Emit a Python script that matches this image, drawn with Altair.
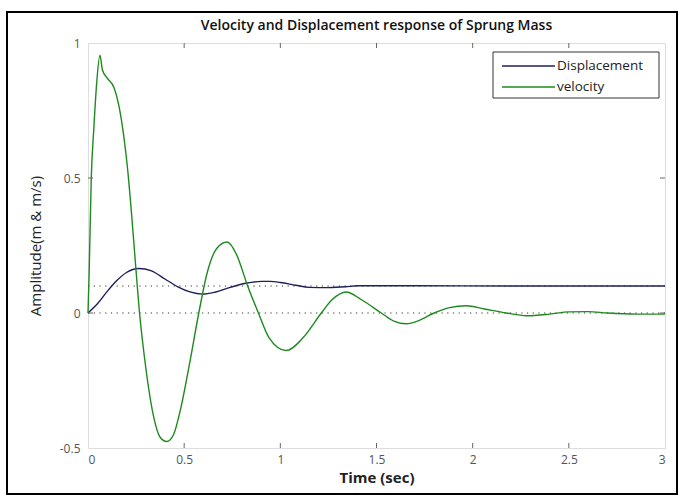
import altair as alt
import pandas as pd

# ---- data ----
series_names = ["Displacement", "velocity"]
series_colors = ["#1f1f5c", "#1e8a1e"]

disp_time = [0.0, 0.05, 0.10, 0.15, 0.20, 0.264, 0.33, 0.40, 0.47, 0.53, 0.597, 0.66,
             0.74, 0.82, 0.90, 0.95, 1.00, 1.08, 1.15, 1.25, 1.34, 1.40, 1.70, 2.20, 2.60, 3.0]
disp_val = [0.0, 0.035, 0.08, 0.12, 0.15, 0.165, 0.156, 0.126, 0.096, 0.078, 0.070, 0.077,
            0.095, 0.110, 0.117, 0.117, 0.113, 0.103, 0.095, 0.094, 0.097, 0.101, 0.101, 0.100, 0.100, 0.100]

vel_time = [0.0, 0.006, 0.017, 0.030, 0.045, 0.062, 0.075, 0.10, 0.135, 0.16, 0.185, 0.205,
            0.225, 0.245, 0.268, 0.30, 0.34, 0.375, 0.41, 0.445, 0.48, 0.53, 0.576, 0.62,
            0.67, 0.724, 0.77, 0.83, 0.886, 0.94, 1.03, 1.12, 1.213, 1.27, 1.343, 1.42,
            1.525, 1.59, 1.655, 1.72, 1.80, 1.88, 1.967, 2.06, 2.175, 2.28, 2.40, 2.50,
            2.60, 2.70, 2.85, 3.0]
vel_val = [0.0, 0.15, 0.50, 0.68, 0.85, 0.955, 0.90, 0.87, 0.835, 0.77, 0.66, 0.54,
           0.38, 0.20, 0.0, -0.20, -0.38, -0.46, -0.476, -0.45, -0.36, -0.18, 0.0, 0.15,
           0.24, 0.263, 0.22, 0.10, 0.0, -0.09, -0.139, -0.09, 0.0, 0.05, 0.078, 0.05,
           0.0, -0.03, -0.04, -0.028, 0.0, 0.02, 0.027, 0.015, 0.0, -0.010, -0.004, 0.004,
           0.005, 0.0, -0.004, -0.004]

x_ticks = [0, 0.5, 1, 1.5, 2, 2.5, 3]
y_ticks = [-0.5, 0, 0.5, 1]
ref_levels = [0.0, 0.1]

title_text = "Velocity and Displacement response of Sprung Mass"
x_title = "Time (sec)"
y_title = "Amplitude(m & m/s)"

# ---- layout ----
W, H = 577, 405
FONT = "Open Sans"

df = pd.concat([
    pd.DataFrame({"t": disp_time, "v": disp_val, "series": series_names[0]}),
    pd.DataFrame({"t": vel_time, "v": vel_val, "series": series_names[1]}),
], ignore_index=True)

xs = alt.Scale(domain=[0, 3], nice=False, zero=False)
ys = alt.Scale(domain=[-0.5, 1], nice=False, zero=False)
cs = alt.Scale(domain=series_names, range=series_colors)

x_axis = alt.Axis(values=x_ticks, labelExpr="datum.value", tickSize=0, domain=False, grid=False,
                  labelPadding=6, labelFontSize=12, labelColor="#555", labelFont=FONT,
                  title=x_title, titleFont=FONT, titleFontSize=15, titleFontWeight="bold",
                  titleColor="#222", titlePadding=5)
y_axis = alt.Axis(values=y_ticks, labelExpr="datum.value", tickSize=0, domain=False, grid=False,
                  labelPadding=8, labelFontSize=12, labelColor="#555", labelFont=FONT,
                  title=y_title, titleFont=FONT, titleFontSize=15, titleFontWeight="normal",
                  titleColor="#222", titlePadding=16)

base = alt.Chart(df)

lines = base.mark_line(strokeWidth=1.4, interpolate="monotone").encode(
    x=alt.X("t:Q", scale=xs, axis=x_axis),
    y=alt.Y("v:Q", scale=ys, axis=y_axis),
    color=alt.Color("series:N", scale=cs, legend=None),
    order=alt.Order("t:Q"),
)

refs = alt.Chart(pd.DataFrame({"lv": ref_levels})).mark_rule(
    color="#333", strokeWidth=1, strokeDash=[1.2, 4.5]
).encode(y=alt.Y("lv:Q", scale=ys))

xt = pd.DataFrame({"xt": x_ticks[1:-1]})
yt = pd.DataFrame({"yt": y_ticks[1:-1]})
tick_style = dict(color="#666", strokeWidth=1)
xtick_bot = alt.Chart(xt).mark_rule(**tick_style).encode(
    x=alt.X("xt:Q", scale=xs), y=alt.value(H), y2=alt.value(H - 5))
xtick_top = alt.Chart(xt).mark_rule(**tick_style).encode(
    x=alt.X("xt:Q", scale=xs), y=alt.value(0), y2=alt.value(5))
ytick_l = alt.Chart(yt).mark_rule(**tick_style).encode(
    y=alt.Y("yt:Q", scale=ys), x=alt.value(0), x2=alt.value(5))
ytick_r = alt.Chart(yt).mark_rule(**tick_style).encode(
    y=alt.Y("yt:Q", scale=ys), x=alt.value(W), x2=alt.value(W - 5))

# ---- legend (manual, MATLAB style) ----
leg_df = pd.DataFrame({"series": series_names, "row": [0, 1]})
LX0, LX1, LY0, LY1 = 405, 571, 9, 55
ROW0, ROWD = 23, 21
leg_box = alt.Chart(leg_df.head(1)).mark_rect(
    fill="white", stroke="#333", strokeWidth=1
).encode(x=alt.value(LX0), x2=alt.value(LX1), y=alt.value(LY0), y2=alt.value(LY1))
leg_layers = []
for i, name in enumerate(series_names):
    d = leg_df[leg_df.series == name]
    yy = ROW0 + i * ROWD
    leg_layers.append(alt.Chart(d).mark_rule(strokeWidth=1.4).encode(
        x=alt.value(LX0 + 9), x2=alt.value(LX0 + 62), y=alt.value(yy),
        color=alt.Color("series:N", scale=cs, legend=None)))
    leg_layers.append(alt.Chart(d).mark_text(
        align="left", baseline="middle", fontSize=13.5, font=FONT, color="#222"
    ).encode(x=alt.value(LX0 + 64), y=alt.value(yy), text="series:N"))

# ---- chart title as a text mark centred over the plot ----
title_df = pd.DataFrame({"label": [title_text]})
title_mark = alt.Chart(title_df).mark_text(
    align="center", baseline="middle", fontSize=14, font=FONT, fontWeight=600, color="#111"
).encode(x=alt.value(W / 2), y=alt.value(-17), text="label:N")

# ---- outer black frame of the figure ----
frame = alt.Chart(leg_df.head(1)).mark_rect(
    fillOpacity=0, stroke="black", strokeWidth=2
).encode(x=alt.value(-81), x2=alt.value(589), y=alt.value(-31), y2=alt.value(451))

chart = alt.layer(
    refs, lines, xtick_bot, xtick_top, ytick_l, ytick_r, leg_box, *leg_layers,
    title_mark, frame
).properties(
    width=W, height=H,
    autosize=alt.AutoSizeParams(type="none"),
    padding={"left": 88, "top": 43, "right": 13, "bottom": 47},
).configure_view(
    stroke="#666", strokeWidth=1
).configure(background="white")

chart.save("out.html", embed_options={"renderer": "svg", "actions": False})
